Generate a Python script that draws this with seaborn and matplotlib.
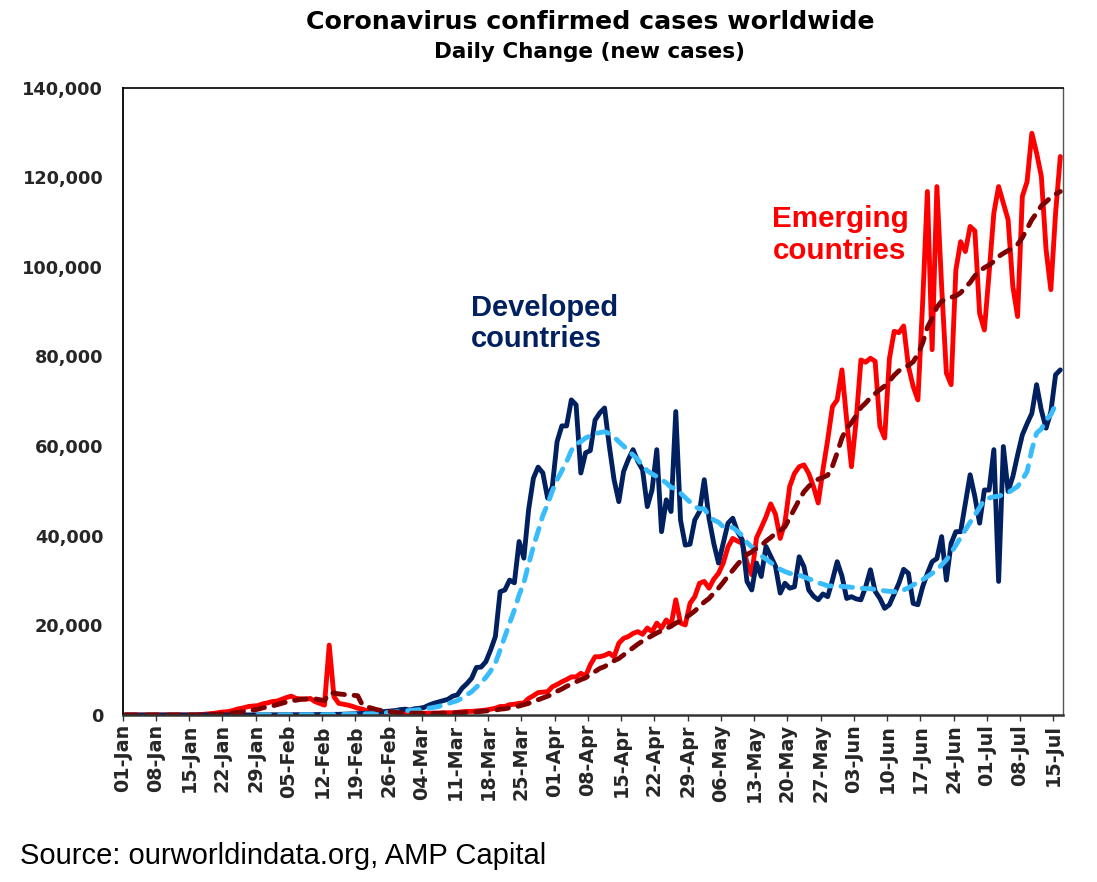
import numpy as np
import pandas as pd
import matplotlib
matplotlib.use("Agg")
import matplotlib.pyplot as plt
import seaborn as sns

# ---------------- data (thousands of new cases per day, 01-Jan .. 16-Jul) ----------------
developed = [
    0, 0, 0, 0, 0, 0, 0, 0, 0, 0,
    0, 0, 0, 0, 0, 0, 0, 0, 0, 0,
    0, 0, 0.01, 0.01, 0.01, 0.02, 0.02, 0.02, 0.03, 0.03,
    0.04, 0.04, 0.05, 0.05, 0.05, 0.06, 0.06, 0.07, 0.07, 0.08,
    0.08, 0.1, 0.1, 0.12, 0.12, 0.15, 0.18, 0.2, 0.25, 0.3,
    0.35, 0.4, 0.5, 0.6, 0.7, 0.8, 0.9, 1.0, 1.2, 1.3,
    1.1, 1.4, 1.5, 1.7, 2.2, 2.6, 2.9, 3.2, 3.5, 4.2,
    4.5, 6.0, 7.0, 8.2, 10.6, 10.7, 11.9, 14.5, 17.5, 27.5,
    27.9, 30.1, 29.5, 38.7, 35.0, 45.8, 52.8, 55.3, 54.0, 48.4,
    51.0, 61.0, 64.5, 64.5, 70.3, 69.2, 54.0, 58.5, 59.0, 65.8,
    67.4, 68.5, 60.0, 52.5, 47.6, 54.3, 57.0, 59.2, 56.6, 54.7,
    46.5, 50.2, 59.2, 40.9, 48.0, 45.4, 67.7, 43.5, 37.9, 38.1,
    43.5, 45.4, 52.5, 43.9, 38.3, 33.9, 38.3, 42.8, 43.9, 40.9,
    39.1, 29.8, 27.9, 33.9, 30.9, 37.6, 35.4, 33.2, 27.2, 29.4,
    28.3, 28.6, 35.3, 33.1, 27.9, 26.5, 25.7, 27.0, 26.4, 30.1,
    34.2, 31.0, 26.0, 26.4, 25.9, 25.7, 28.6, 32.4, 27.6, 26.0,
    23.8, 24.6, 27.0, 29.4, 32.5, 31.6, 24.9, 24.6, 28.6, 31.6,
    34.2, 34.9, 39.8, 30.1, 38.3, 40.9, 40.9, 47.3, 53.6, 48.7,
    42.8, 50.2, 50.2, 59.2, 29.8, 59.9, 49.9, 53.2, 58.0, 62.5,
    65.0, 67.3, 73.7, 68.0, 64.0, 67.6, 75.9, 77.0,
]

developed_avg = [None] * 28 + [
    0.02, 0.02, 0.03, 0.03, 0.03, 0.04, 0.04, 0.05, 0.05, 0.05, 0.06, 0.06,
    0.07, 0.07, 0.08, 0.09, 0.1, 0.11, 0.12, 0.14, 0.16, 0.19,
    0.22, 0.26, 0.3, 0.36, 0.43, 0.5, 0.6, 0.7, 0.8, 0.9,
    1.0, 1.1, 1.2, 1.3, 1.5, 1.7, 1.9, 2.2, 2.5, 2.9,
    3.2, 3.8, 4.5, 5.2, 6.2, 7.2, 8.4, 9.8, 11.6, 14.5,
    17.5, 20.5, 23.4, 26.8, 29.5, 33.7, 37.5, 41.0, 44.5, 47.0,
    50.0, 52.5, 54.5, 56.5, 59.0, 60.5, 61.0, 61.8, 62.3, 62.8,
    63.0, 63.2, 62.8, 62.0, 61.0, 60.0, 59.0, 58.0, 57.0, 55.5,
    54.5, 53.8, 53.2, 52.5, 51.8, 50.8, 50.5, 49.5, 48.5, 47.5,
    46.5, 46.0, 46.0, 44.5, 43.5, 43.0, 42.0, 42.0, 41.8, 41.0,
    40.0, 38.5, 37.5, 36.8, 35.5, 34.8, 34.0, 33.2, 32.5, 32.0,
    31.6, 31.4, 31.2, 30.8, 30.4, 30.0, 29.5, 29.2, 28.8, 28.8,
    28.8, 28.7, 28.6, 28.5, 28.4, 28.3, 28.2, 28.2, 28.0, 27.9,
    27.7, 27.6, 27.5, 27.6, 27.9, 28.4, 29.0, 29.6, 30.2, 30.9,
    31.6, 32.4, 33.5, 34.6, 36.2, 37.9, 39.6, 41.3, 43.0, 44.6,
    46.3, 48.0, 48.4, 48.7, 48.8, 49.2, 49.6, 50.3, 51.0, 52.5,
    54.3, 59.2, 62.9, 63.8, 65.8, 67.0, 69.2, None,
]

emerging = [
    0, 0, 0, 0, 0, 0, 0, 0, 0, 0,
    0, 0, 0, 0, 0, 0, 0.1, 0.2, 0.3, 0.4,
    0.6, 0.7, 0.8, 1.1, 1.4, 1.6, 1.9, 2.0, 2.1, 2.5,
    2.7, 3.0, 3.1, 3.5, 3.9, 4.2, 3.7, 3.6, 3.5, 3.7,
    3.0, 2.6, 2.2, 15.6, 4.1, 2.6, 2.4, 2.2, 1.9, 1.5,
    1.3, 0.9, 0.8, 0.7, 0.6, 0.6, 0.5, 0.5, 0.5, 0.4,
    0.4, 0.3, 0.3, 0.4, 0.4, 0.4, 0.4, 0.5, 0.5, 0.5,
    0.6, 0.7, 0.8, 0.8, 0.9, 1.0, 1.1, 1.3, 1.5, 1.9,
    1.9, 2.3, 2.4, 2.6, 2.7, 3.7, 4.3, 5.0, 5.1, 5.2,
    6.3, 6.8, 7.4, 7.9, 8.5, 8.5, 9.3, 8.7, 11.2, 13.0,
    13.0, 13.3, 13.8, 13.0, 16.0, 17.1, 17.5, 18.2, 18.6, 18.0,
    19.4, 18.6, 20.5, 19.4, 21.2, 20.0, 25.7, 20.5, 20.1, 24.9,
    26.4, 29.4, 29.8, 28.3, 30.3, 31.6, 33.9, 37.5, 39.4, 38.8,
    38.3, 34.0, 31.3, 39.5, 41.8, 44.2, 47.1, 44.8, 39.4, 43.0,
    51.0, 53.9, 55.4, 55.8, 53.9, 51.0, 47.3, 54.7, 61.4, 68.8,
    70.3, 77.0, 65.8, 55.4, 65.8, 79.2, 78.7, 79.6, 78.9, 64.4,
    61.8, 79.5, 85.6, 85.3, 86.8, 77.8, 73.3, 70.3, 92.0, 116.8,
    81.5, 117.9, 95.6, 76.3, 73.7, 99.3, 105.6, 103.4, 109.0, 108.0,
    89.6, 85.9, 98.6, 112.0, 117.9, 114.2, 110.5, 95.6, 88.9, 115.7,
    119.0, 129.8, 125.4, 120.2, 103.8, 94.9, 112.0, 124.6,
]

emerging_avg = [
    0, 0, 0, 0, 0, 0, 0, 0, 0, 0,
    0, 0, 0, 0, 0, 0, 0, 0, 0.1, 0.15,
    0.2, 0.3, 0.4, 0.5, 0.6, 0.8, 1.0, 1.1, 1.3, 1.6,
    1.8, 2.0, 2.3, 2.6, 2.9, 3.2, 3.3, 3.5, 3.6, 3.7,
    3.6, 3.4, 3.2, 4.9, 4.9, 4.7, 4.6, 4.4, 4.4, 4.3,
    2.2, 1.8, 1.5, 1.2, 1.0, 0.8, 0.7, 0.6, 0.5, 0.5,
    0.4, 0.4, 0.4, 0.4, 0.4, 0.4, 0.4, 0.4, 0.4, 0.5,
    0.5, 0.5, 0.6, 0.6, 0.7, 0.8, 0.9, 1.0, 1.1, 1.3,
    1.4, 1.6, 1.8, 2.0, 2.3, 2.6, 3.0, 3.4, 3.8, 4.2,
    4.6, 5.3, 5.8, 6.4, 6.9, 7.4, 7.9, 8.3, 9.0, 9.7,
    10.4, 10.8, 11.5, 12.1, 12.6, 13.4, 14.2, 15.0, 15.8, 16.5,
    17.1, 17.7, 18.3, 18.8, 19.3, 19.8, 20.5, 21.0, 21.6, 22.4,
    23.2, 24.2, 25.2, 26.0, 27.2, 28.3, 29.6, 31.0, 32.3, 33.6,
    34.8, 35.8, 36.4, 37.2, 37.8, 38.8, 39.6, 40.5, 41.2, 42.0,
    44.0, 46.0, 48.0, 49.8, 51.0, 52.0, 52.6, 53.0, 53.5, 55.5,
    58.5, 61.8, 64.0, 65.2, 66.8, 68.6, 69.6, 70.8, 71.7, 72.6,
    73.4, 74.5, 75.8, 76.8, 77.4, 78.0, 78.8, 80.5, 83.0, 86.5,
    88.5, 91.0, 92.3, 92.8, 93.2, 93.5, 94.2, 95.4, 96.5, 98.0,
    99.0, 99.8, 100.4, 101.2, 102.3, 103.0, 103.6, 104.2, 105.0, 106.5,
    108.5, 110.5, 112.0, 113.6, 114.5, 115.5, 116.2, 116.8,
]

xtick_labels = [
    "01-Jan", "08-Jan", "15-Jan", "22-Jan", "29-Jan", "05-Feb", "12-Feb", "19-Feb",
    "26-Feb", "04-Mar", "11-Mar", "18-Mar", "25-Mar", "01-Apr", "08-Apr", "15-Apr",
    "22-Apr", "29-Apr", "06-May", "13-May", "20-May", "27-May", "03-Jun", "10-Jun",
    "17-Jun", "24-Jun", "01-Jul", "08-Jul", "15-Jul",
]
ytick_values = [0, 20000, 40000, 60000, 80000, 100000, 120000, 140000]
ytick_labels = ["0", "20,000", "40,000", "60,000", "80,000", "100,000", "120,000", "140,000"]

title = "Coronavirus confirmed cases worldwide"
subtitle = "Daily Change (new cases)"
source = "Source: ourworldindata.org, AMP Capital"

# ---------------- build frame ----------------
n = len(developed)
df = pd.DataFrame({
    "day": np.arange(n) + 0.5,          # each day drawn at the centre of its slot
    "developed": np.array(developed, dtype=float) * 1000,
    "developed_avg": np.array([np.nan if v is None else v for v in developed_avg]) * 1000,
    "emerging": np.array(emerging, dtype=float) * 1000,
    "emerging_avg": np.array(emerging_avg, dtype=float) * 1000,
})

sns.set_theme(style="white")
plt.rcParams["font.family"] = ["DejaVu Sans"]

NAVY = "#002060"
RED = "#FF0000"
LIGHT = "#38BCFC"
MAROON = "#7F0000"

fig = plt.figure(figsize=(10.97, 8.82), dpi=100)
ax = fig.add_axes([0.11185, 0.18934, 0.85688, 0.71145])

solid_kw = dict(linewidth=3.5, solid_joinstyle="round", solid_capstyle="round", errorbar=None)
dash_kw = dict(linewidth=3.5, linestyle=(0, (2.4, 2.0)), dash_capstyle="round",
               dash_joinstyle="round", errorbar=None)

sns.lineplot(data=df, x="day", y="emerging", color=RED, ax=ax, **solid_kw)
sns.lineplot(data=df, x="day", y="developed", color=NAVY, ax=ax, **solid_kw)
sns.lineplot(data=df.dropna(subset=["developed_avg"]), x="day", y="developed_avg",
             color=LIGHT, ax=ax, **dash_kw)
sns.lineplot(data=df, x="day", y="emerging_avg", color=MAROON, ax=ax, **dash_kw)

ax.set_xlim(0, 198)
ax.set_ylim(0, 140000)
ax.set_xticks(np.arange(len(xtick_labels)) * 7)
ax.set_xticklabels(xtick_labels, rotation=90, fontsize=13.8, fontweight="bold")
ax.set_yticks(ytick_values)
ax.set_yticklabels(ytick_labels, fontsize=12.8, fontweight="bold")
ax.set_xlabel("")
ax.set_ylabel("")
ax.tick_params(axis="x", bottom=True, length=4.5, width=1.0, color="#333333",
               direction="out", pad=2)
ax.tick_params(axis="y", left=False, length=0, pad=14)
ax.grid(False)

for side in ["left", "top", "right", "bottom"]:
    ax.spines[side].set_visible(True)
    ax.spines[side].set_color("black")
ax.spines["left"].set_linewidth(1.3)
ax.spines["bottom"].set_linewidth(1.8)
ax.spines["bottom"].set_color("#333333")
ax.spines["top"].set_linewidth(1.2)
ax.spines["right"].set_linewidth(1.0)
ax.spines["right"].set_color("#555555")

W, H = 1097.0, 882.0
fig.text(590 / W, 1 - 29 / H, title, ha="center", va="baseline",
         fontsize=18.2, fontweight="bold", color="black")
fig.text(590 / W, 1 - 58 / H, subtitle, ha="center", va="baseline",
         fontsize=15.5, fontweight="bold", color="black")

ann_font = ["Liberation Sans", "DejaVu Sans"]
fig.text(471 / W, 1 - 316 / H, "Developed", ha="left", va="baseline",
         fontsize=21, fontweight="bold", color=NAVY, family=ann_font)
fig.text(471 / W, 1 - 346.7 / H, "countries", ha="left", va="baseline",
         fontsize=21, fontweight="bold", color=NAVY, family=ann_font)
fig.text(772.5 / W, 1 - 227.3 / H, "Emerging", ha="left", va="baseline",
         fontsize=21.3, fontweight="bold", color=RED, family=ann_font)
fig.text(772.5 / W, 1 - 259.3 / H, "countries", ha="left", va="baseline",
         fontsize=21.3, fontweight="bold", color=RED, family=ann_font)

fig.text(20 / W, 1 - 863.5 / H, source, ha="left", va="baseline",
         fontsize=21, color="black", family=ann_font)

fig.savefig("out.png", dpi=100, facecolor="white")
